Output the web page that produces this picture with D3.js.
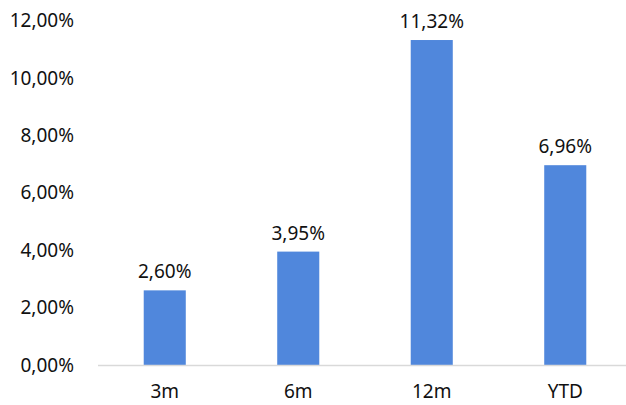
<!DOCTYPE html>
<html>
<head>
<meta charset="utf-8">
<script src="https://cdn.jsdelivr.net/npm/d3@7"></script>
<style>
  body { margin: 0; background: #fff; }
  text { font-family: "Noto Sans", "Open Sans", sans-serif; fill: #111; }
</style>
</head>
<body>
<div id="chart"></div>
<script>
const categories = ["3m", "6m", "12m", "YTD"];
const values = [2.60, 3.95, 11.32, 6.96];
const yTicks = [0, 2, 4, 6, 8, 10, 12];

const width = 626, height = 405;
const fmt = v => v.toFixed(2).replace(".", ",") + "%";

const svg = d3.select("#chart").append("svg")
    .attr("width", width)
    .attr("height", height);

const x = d3.scaleBand()
    .domain(categories)
    .range([98, 632])
    .paddingInner(0.685)
    .paddingOuter(0.3425);

const y = d3.scaleLinear()
    .domain([0, 12])
    .range([365, 20.5]);

// y tick labels
svg.append("g")
    .selectAll("text")
    .data(yTicks)
    .enter()
    .append("text")
    .attr("x", 74)
    .attr("y", d => y(d))
    .attr("dy", "0.35em")
    .attr("text-anchor", "end")
    .style("font-size", "19px")
    .text(d => fmt(d));

// bars
svg.selectAll("rect")
    .data(values)
    .enter()
    .append("rect")
    .attr("x", (d, i) => x(categories[i]))
    .attr("y", d => y(d))
    .attr("width", x.bandwidth())
    .attr("height", d => y(0) - y(d))
    .style("fill", "#5087dc");

// baseline
svg.append("line")
    .attr("x1", 98)
    .attr("x2", 632)
    .attr("y1", y(0) + 0.5)
    .attr("y2", y(0) + 0.5)
    .style("stroke", "#d9d9d9")
    .style("stroke-width", 1.5);

// value labels
svg.append("g")
    .selectAll("text")
    .data(values)
    .enter()
    .append("text")
    .attr("x", (d, i) => x(categories[i]) + x.bandwidth() / 2)
    .attr("y", d => y(d) - 12)
    .attr("text-anchor", "middle")
    .style("font-size", "19px")
    .text(d => fmt(d));

// category labels
svg.append("g")
    .selectAll("text")
    .data(categories)
    .enter()
    .append("text")
    .attr("x", d => x(d) + x.bandwidth() / 2)
    .attr("y", 398)
    .attr("text-anchor", "middle")
    .style("font-size", "19px")
    .text(d => d);
</script>
</body>
</html>
